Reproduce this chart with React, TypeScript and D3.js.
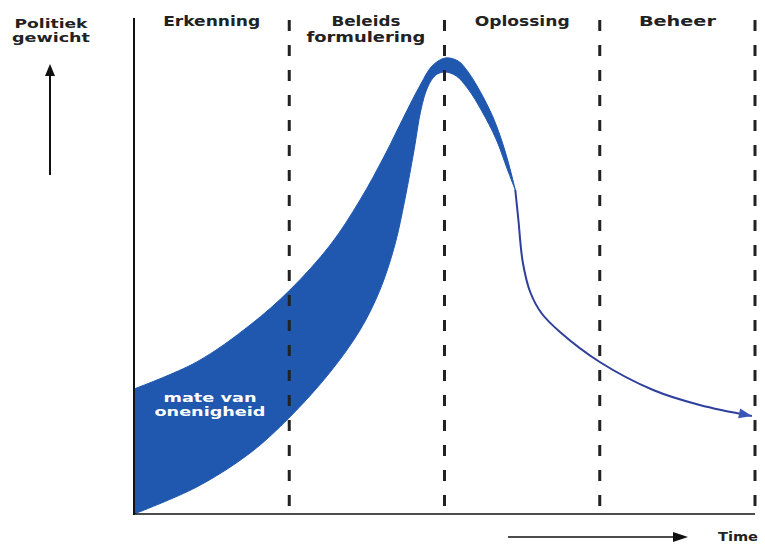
import React from "react";
import * as d3 from "d3";

// Phase labels (x in time units 0..100, boundaries at 25/50/75/100)
const phases = [
  { lines: ["Erkenning"], start: 0, end: 25 },
  { lines: ["Beleids", "formulering"], start: 25, end: 50 },
  { lines: ["Oplossing"], start: 50, end: 75 },
  { lines: ["Beheer"], start: 75, end: 100 },
];
const boundaries = [25, 50, 75, 100];

// Outer (upper) edge of the disagreement band: [time, political weight]
const outerEdge: [number, number][] = [
  [0, 25.0], [10.1, 30.4], [18.7, 37.8], [25.1, 44.8], [31.6, 53.8],
  [36.4, 62.8], [40.4, 71.8], [43.6, 79.8], [46.1, 85.8], [48.0, 89.6],
  [50.1, 91.2], [52.2, 90.6], [53.8, 88.4], [55.7, 84.6], [57.8, 79.4],
  [59.5, 73.6], [60.6, 68.8], [61.4, 64.8],
];
// Inner (lower) edge of the band
const innerEdge: [number, number][] = [
  [0, 0], [10.1, 5.4], [18.7, 12.2], [25.1, 19.4], [31.6, 28.4],
  [36.4, 36.8], [39.6, 44.8], [42.0, 53.8], [43.6, 62.8], [45.1, 72.8],
  [46.2, 80.8], [47.3, 85.4], [48.6, 87.8], [50.1, 88.4], [51.9, 87.6],
  [53.8, 85.0], [56.0, 80.6], [58.3, 75.0], [60.1, 69.0], [61.4, 64.8],
];
// Thin tail after consensus
const tail: [number, number][] = [
  [61.4, 64.8], [61.9, 58.8], [62.6, 50.4], [63.8, 44.4], [65.6, 40.2],
  [68.6, 36.4], [75.0, 30.4], [83.6, 24.8], [91.1, 21.8], [99.5, 19.6],
];

const FONT = "'DejaVu Sans', Verdana, sans-serif";
const BLUE = "#2058b0";

export default function App() {
  const W = 765, H = 544;
  const x = d3.scaleLinear().domain([0, 100]).range([134, 755]);
  const y = d3.scaleLinear().domain([0, 100]).range([514, 14]);
  const line = d3.line<[number, number]>()
    .x(d => x(d[0])).y(d => y(d[1]))
    .curve(d3.curveCatmullRom.alpha(0.5));
  const outerPath = line(outerEdge) as string;
  const innerRev = line([...innerEdge].reverse()) as string;
  const bandPath = outerPath + "L" + innerRev.slice(1) + "Z";
  const tailPath = line(tail) as string;

  const labelWidths: Record<string, number> = {
    Erkenning: 97, Beleids: 69, formulering: 119, Oplossing: 95, Beheer: 77,
  };

  const a = tail[tail.length - 2], b = tail[tail.length - 1];
  const ax2 = x(b[0]), ay2 = y(b[1]);
  const ang = Math.atan2(ay2 - y(a[1]), ax2 - x(a[0])) * 180 / Math.PI;

  return (
    <svg width={W} height={H} style={{ position: "absolute", left: 0, top: 0, background: "#fff" }}>
      <rect width={W} height={H} fill="#fff" />

      {/* band */}
      <path d={bandPath} fill={BLUE} stroke={BLUE} strokeWidth={1} />
      <path d={tailPath} fill="none" stroke="#2e3f9c" strokeWidth={2} />
      <path d="M0,0 L-13,-5 L-13,5 Z" fill="#3a55b8" transform={`translate(${ax2},${ay2}) rotate(${ang})`} />

      {/* dashed phase boundaries */}
      {boundaries.map(bd => (
        <line key={bd} x1={x(bd)} x2={x(bd)} y1={20} y2={514} stroke="#222" strokeWidth={3} strokeDasharray="11 14" />
      ))}

      {/* axes */}
      <line x1={x(0)} x2={x(0)} y1={18} y2={515} stroke="#111" strokeWidth={2} />
      <line x1={x(0)} x2={x(100)} y1={514} y2={514} stroke="#111" strokeWidth={1.5} />

      {/* phase labels */}
      {phases.map(p => (
        <g key={p.lines[0]}>
          {p.lines.map((t, i) => (
            <text key={t} x={(x(p.start) + x(p.end)) / 2 + (p.lines.length > 1 ? -1 : 0)} y={26 + i * 16}
              textAnchor="middle" fontFamily={FONT} fontWeight="bold" fontSize={13.5} fill="#222"
              textLength={labelWidths[t]} lengthAdjust="spacingAndGlyphs">{t}</text>
          ))}
        </g>
      ))}

      {/* y-axis title */}
      <text x={51} y={28} textAnchor="middle" fontFamily={FONT} fontWeight="bold" fontSize={13} fill="#222" textLength={73} lengthAdjust="spacingAndGlyphs">Politiek</text>
      <text x={51} y={42} textAnchor="middle" fontFamily={FONT} fontWeight="bold" fontSize={13} fill="#222" textLength={78} lengthAdjust="spacingAndGlyphs">gewicht</text>
      <line x1={50} x2={50} y1={175} y2={74} stroke="#111" strokeWidth={2} />
      <path d="M50,64 L45,76 L55,76 Z" fill="#111" />

      {/* time arrow */}
      <line x1={508} x2={676} y1={537} y2={537} stroke="#111" strokeWidth={1.5} />
      <path d="M688,537 L673,532 L673,542 Z" fill="#111" />
      <text x={718} y={541} fontFamily={FONT} fontWeight="bold" fontSize={12} fill="#222" textLength={40} lengthAdjust="spacingAndGlyphs">Time</text>

      {/* band label */}
      <text x={210} y={402} textAnchor="middle" fontFamily={FONT} fontWeight="bold" fontSize={12.5} fill="#fff" textLength={93} lengthAdjust="spacingAndGlyphs">mate van</text>
      <text x={210} y={416} textAnchor="middle" fontFamily={FONT} fontWeight="bold" fontSize={12.5} fill="#fff" textLength={111} lengthAdjust="spacingAndGlyphs">onenigheid</text>
    </svg>
  );
}
